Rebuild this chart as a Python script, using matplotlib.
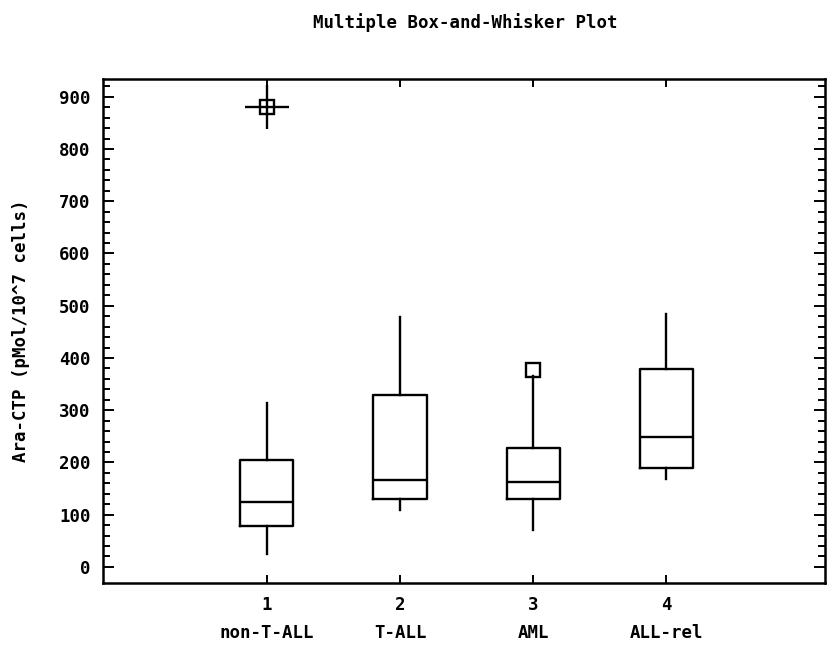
import matplotlib
matplotlib.use("Agg")
import matplotlib.pyplot as plt

# box statistics
groups = ["non-T-ALL", "T-ALL", "AML", "ALL-rel"]
whisker_lo = [25, 108, 70, 169]
q1 = [79, 130, 130, 189]
medians = [125, 167, 163, 248]
q3 = [204, 329, 227, 379]
whisker_hi = [313, 478, 365, 484]
outside = [[], [], [376], []]
far_outside = [[880], [], [], []]

plt.rcParams["font.family"] = "DejaVu Sans Mono"
plt.rcParams["font.weight"] = "bold"

fig = plt.figure(figsize=(8.3, 6.45), dpi=100)
ax = fig.add_axes([0.124, 0.096, 0.87, 0.7815])

positions = list(range(1, len(groups) + 1))
stats = []
for i in range(len(groups)):
    stats.append({
        "whislo": whisker_lo[i], "q1": q1[i], "med": medians[i],
        "q3": q3[i], "whishi": whisker_hi[i],
        "fliers": outside[i] + far_outside[i],
    })

ax.bxp(stats, positions=positions, widths=0.4, showcaps=False,
       boxprops=dict(color="black", linewidth=1.7),
       medianprops=dict(color="black", linewidth=1.7),
       whiskerprops=dict(color="black", linewidth=1.7),
       flierprops=dict(marker="s", markersize=10.5, markerfacecolor="none",
                       markeredgecolor="black", markeredgewidth=1.7))

# far outside points get an extra cross through the square
for pos, pts in zip(positions, far_outside):
    for p in pts:
        ax.plot(pos, p, marker="+", markersize=32, markeredgewidth=1.7,
                color="black", linestyle="none")

ax.set_xlim(-0.23, 5.19)
ax.set_ylim(-31, 934)
ax.set_yticks(range(0, 901, 100))
ax.set_yticks(range(0, 921, 20), minor=True)
ax.set_xticks(positions)
ax.set_xticklabels([f"{p}\n{g}" for p, g in zip(positions, groups)])
for lbl in ax.get_xticklabels():
    lbl.set_linespacing(1.75)

ax.tick_params(axis="both", which="both", direction="in", top=True,
               right=True, labelsize=12.5, width=1.4)
ax.tick_params(axis="y", which="major", length=8, pad=9)
ax.tick_params(axis="y", which="minor", length=5)
ax.tick_params(axis="x", which="major", length=6, pad=9)
for s in ax.spines.values():
    s.set_linewidth(1.8)

ax.set_ylabel("Ara-CTP (pMol/10^7 cells)", fontsize=12.5, labelpad=21,
              fontweight="bold")
fig.text(0.561, 0.965, "Multiple Box-and-Whisker Plot", ha="center",
         va="center", fontsize=12.5, fontweight="bold")

fig.savefig("out.png", dpi=100)
